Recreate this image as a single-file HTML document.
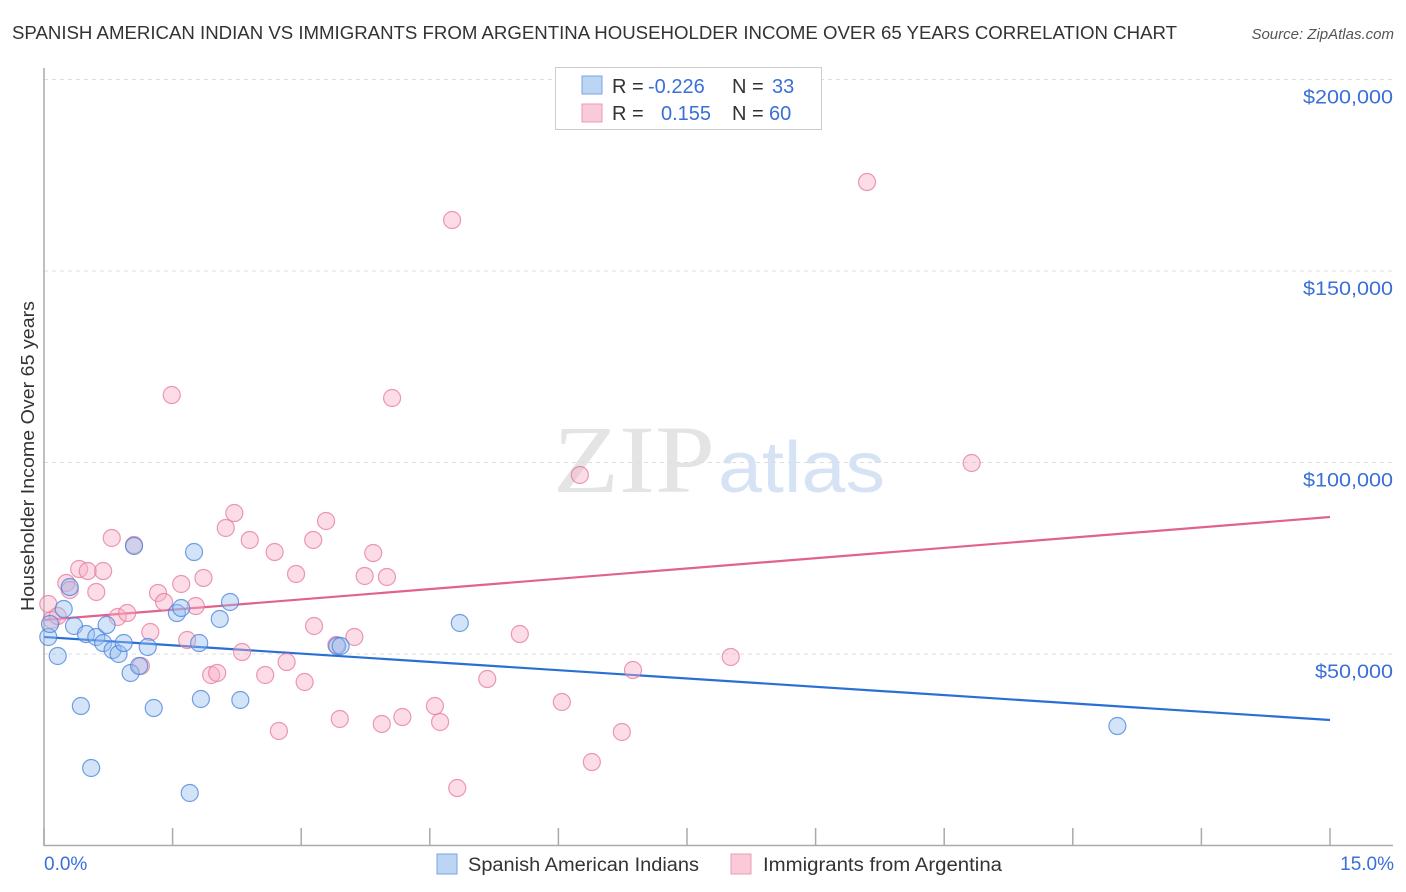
<!DOCTYPE html>
<html><head><meta charset="utf-8">
<style>
body{margin:0;background:#fff;font-family:"Liberation Sans",sans-serif;}
#wrap{position:relative;width:1406px;height:892px;overflow:hidden;}
</style></head>
<body>
<div id="wrap">
<svg id="svg" width="1406" height="892" xmlns="http://www.w3.org/2000/svg">
  <text x="12" y="39" font-size="18.3" fill="#333" textLength="1165" lengthAdjust="spacingAndGlyphs">SPANISH AMERICAN INDIAN VS IMMIGRANTS FROM ARGENTINA HOUSEHOLDER INCOME OVER 65 YEARS CORRELATION CHART</text>
  <text x="1394" y="39" font-size="15" fill="#555" font-style="italic" text-anchor="end">Source: ZipAtlas.com</text>
  <g>
    <text x="553" y="492" font-family="Liberation Serif, serif" font-size="96" fill="#e4e4e4" textLength="162" lengthAdjust="spacingAndGlyphs">ZIP</text>
    <text x="718" y="492" font-size="72" fill="#d6e3f5" textLength="167" lengthAdjust="spacingAndGlyphs">atlas</text>
  </g>
  <g id="grid"></g>
  <g id="axes"></g>
  <g id="lines"></g>
  <g id="pts"></g>
  <text transform="translate(34,456) rotate(-90)" font-size="18" fill="#333" text-anchor="middle" textLength="310" lengthAdjust="spacingAndGlyphs">Householder Income Over 65 years</text>
  <text x="44" y="870" font-size="19" fill="#3a6fd8">0.0%</text>
  <text x="1394" y="870" font-size="19" fill="#3a6fd8" text-anchor="end">15.0%</text>
  <g>
    <rect x="555.5" y="67.5" width="266" height="62" fill="#fff" stroke="#ccc"/>
    <rect x="582" y="76" width="20" height="18" fill="#bcd5f5" stroke="#7aa5e0"/>
    <rect x="582" y="104" width="20" height="18" fill="#fbcad9" stroke="#ec9ab5"/>
    <text x="612" y="93" font-size="20" fill="#333">R = <tspan x="648" fill="#3a6fd8">-0.226</tspan><tspan x="732">N = </tspan><tspan x="772" fill="#3a6fd8">33</tspan></text>
    <text x="612" y="120" font-size="20" fill="#333">R = <tspan x="661" fill="#3a6fd8">0.155</tspan><tspan x="732">N = </tspan><tspan x="769" fill="#3a6fd8">60</tspan></text>
  </g>
  <g>
    <rect x="437" y="854" width="20" height="20" fill="#bcd5f5" stroke="#7aa5e0"/>
    <text x="468" y="871" font-size="19" fill="#333" textLength="231" lengthAdjust="spacingAndGlyphs">Spanish American Indians</text>
    <rect x="731" y="854" width="20" height="20" fill="#fbcad9" stroke="#ec9ab5"/>
    <text x="763" y="871" font-size="19" fill="#333" textLength="239" lengthAdjust="spacingAndGlyphs">Immigrants from Argentina</text>
  </g>
</svg>
</div>
<script>
const yTicks=[50000,100000,150000,200000];
const yTickLabels=["$50,000","$100,000","$150,000","$200,000"];
const xTicks=[0,1.5,3,4.5,6,7.5,9,10.5,12,13.5,15];
const blueX=[0.05,0.07,0.16,0.23,0.30,0.35,0.43,0.49,0.55,0.61,0.69,0.73,0.80,0.87,0.93,1.01,1.05,1.11,1.21,1.28,1.55,1.60,1.70,1.75,1.81,1.83,2.05,2.17,2.29,3.42,3.46,4.85,12.52];
const blueY=[54440,57830,49480,61750,67490,57310,36420,55220,20240,54440,52870,57570,51040,50000,52870,45040,78200,46870,51830,35900,60700,62010,13710,76630,52870,38250,59140,63580,37990,52090,52090,58100,31200];
const pinkX=[0.05,0.09,0.16,0.26,0.30,0.41,0.51,0.61,0.69,0.79,0.86,0.97,1.05,1.13,1.24,1.33,1.40,1.49,1.60,1.67,1.77,1.86,1.95,2.02,2.12,2.22,2.31,2.40,2.58,2.69,2.74,2.83,2.94,3.04,3.14,3.15,3.29,3.41,3.45,3.62,3.74,3.84,3.94,4.00,4.06,4.18,4.56,4.62,4.76,4.82,5.17,5.55,6.04,6.25,6.39,6.74,6.87,8.01,9.60,10.82];
const pinkY=[63060,58880,59920,68540,66710,72190,71670,66190,71670,80290,59660,60700,78460,46870,55740,65930,63580,117620,68280,53650,62530,69850,44520,45040,82900,86810,50520,79770,44520,76630,29900,47910,70890,42690,79770,57310,84730,52350,33030,54440,70370,76370,31730,70110,116840,33550,36420,32250,163310,15010,43470,55220,37470,96740,21800,29640,45820,49220,173230,99870];
const blueTrend=[54440,32770];
const pinkTrend=[58880,85770];

const NS="http://www.w3.org/2000/svg";
const X0=44,X1=1330,Y0=845.5,PPY=191.5/50000;
function sx(v){return X0+(v/15)*(X1-X0);}
function sy(v){return Y0-v*PPY;}
function mk(tag,attrs,parent){const e=document.createElementNS(NS,tag);for(const k in attrs)e.setAttribute(k,attrs[k]);parent.appendChild(e);return e;}
const grid=document.getElementById('grid'),axes=document.getElementById('axes'),lines=document.getElementById('lines'),pts=document.getElementById('pts'),svg=document.getElementById('svg');
yTicks.forEach((t,i)=>{
  const l=mk('line',{x1:X0,x2:1393,y1:sy(t),y2:sy(t),stroke:'#ddd','stroke-dasharray':'4,4'},grid);
  
  
  const tx=mk('text',{x:1393,y:sy(t)+24,'font-size':19.5,fill:'#3a6fd8','text-anchor':'end',textLength:(i==0?78:90),lengthAdjust:'spacingAndGlyphs'},svg);
  tx.textContent=yTickLabels[i];
  
  
});
const ya=mk('line',{x1:X0,x2:X0,y1:68,y2:846,stroke:'#aaa','stroke-width':1.5},axes);


const xa=mk('line',{x1:X0,x2:1393,y1:845.5,y2:845.5,stroke:'#aaa','stroke-width':1.5},axes);


xTicks.forEach(t=>{
  const l=mk('line',{x1:sx(t),x2:sx(t),y1:828,y2:846,stroke:'#aaa','stroke-width':1.5},axes);
  
  
});
function drawPts(xs,ys,fill,stroke,name){
  xs.forEach((x,i)=>{
    const c=mk('circle',{cx:sx(x),cy:sy(ys[i]),r:8.5,fill:fill,stroke:stroke,'stroke-width':1.2},pts);
    
    
  });
}
drawPts(pinkX,pinkY,'rgba(248,175,198,0.42)','rgba(230,120,155,0.75)','point-argentina');
drawPts(blueX,blueY,'rgba(150,190,240,0.42)','rgba(70,130,220,0.75)','point-spanish');
const bl=mk('line',{x1:sx(0),y1:sy(blueTrend[0]),x2:sx(15),y2:sy(blueTrend[1]),stroke:'#2a6fd6','stroke-width':2.2},lines);


const pl=mk('line',{x1:sx(0),y1:sy(pinkTrend[0]),x2:sx(15),y2:sy(pinkTrend[1]),stroke:'#e2628e','stroke-width':2.2},lines);


</script>
</body></html>
